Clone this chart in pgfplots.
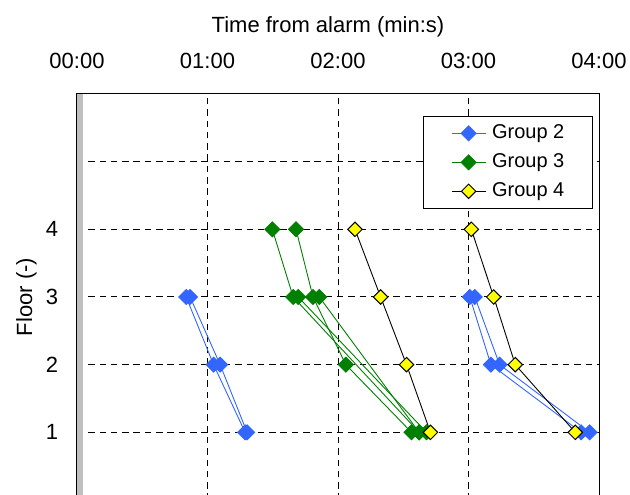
\documentclass[border=0pt]{standalone}
\usepackage{pgfplots}
\pgfplotsset{compat=1.18}
\usepackage{fontspec}
\setmainfont{Liberation Sans}
\definecolor{cblue}{RGB}{51,102,255}
\definecolor{cgreen}{RGB}{0,128,0}
\definecolor{cyellow}{RGB}{255,255,0}
\pgfplotsset{
  bser/.style={cblue, line width=0.9bp, mark=square*, mark size=5.3bp, mark options={rotate=45, solid, fill=cblue, draw=cblue}},
  gser/.style={cgreen, line width=0.9bp, mark=square*, mark size=5.3bp, mark options={rotate=45, solid, fill=cgreen, draw=cgreen}},
  yser/.style={black, line width=0.9bp, mark=square*, mark size=5.1bp, mark options={rotate=45, solid, fill=cyellow, draw=black, line width=1bp}},
}
\begin{document}
\begin{tikzpicture}
\begin{axis}[
  name=ax,
  scale only axis, width=522bp, height=406bp,
  xmin=0, xmax=240, ymin=0, ymax=6,
  xtick={0,60,120,180,240}, xticklabels={00:00,01:00,02:00,03:00,04:00},
  ytick={1,2,3,4,5}, yticklabels={1,2,3,4,{}},
  xticklabel pos=upper,
  major tick length=0pt,
  grid=major,
  grid style={black, line width=1bp, dash pattern=on 6.5bp off 4.8bp},
  axis line style={black, line width=1bp},
  ticklabel style={font=\fontsize{22bp}{26bp}\selectfont, inner sep=0pt},
  xticklabel style={anchor=base, yshift=25.7bp},
  yticklabel style={anchor=east, xshift=-18.7bp},
  xlabel={Time from alarm (min:s)},
  ylabel={Floor (-)},
  every axis x label/.style={at={(axis description cs:0.4808,1.1527)}, anchor=base, inner sep=0pt, font=\fontsize{22bp}{26bp}\selectfont},
  every axis y label/.style={at={(axis description cs:-0.0862,0.5)}, rotate=90, anchor=base, inner sep=0pt, font=\fontsize{22bp}{26bp}\selectfont},
  legend style={at={(0.988,0.946)}, anchor=north east, draw=black, line width=0.8bp,
    font=\fontsize{20bp}{24bp}\selectfont, inner xsep=28bp, inner ysep=8bp, row sep=11bp,
    cells={anchor=west}, nodes={inner sep=0pt, text height=14bp, text depth=4bp},
    /tikz/every odd column/.append style={column sep=6bp}},
  legend image code/.code={\draw[mark repeat=2,mark phase=2,#1] plot coordinates {(0bp,0bp) (17bp,0bp) (34bp,0bp)};},
]
\fill[gray!50] ([xshift=0.5bp]rel axis cs:0,0) rectangle ([xshift=6.5bp]rel axis cs:0,1);
% Group 2
\addplot[bser] coordinates {(50.2,3) (62.8,2) (77.3,1)};
\addlegendentry{Group 2}
\addplot[bser, forget plot] coordinates {(52.0,3) (65.8,2) (78.2,1)};
\addplot[bser, forget plot] coordinates {(180.6,3) (190.3,2) (231.8,1)};
\addplot[bser, forget plot] coordinates {(182.9,3) (194.3,2) (235.7,1)};
% Group 3
\addplot[gser] coordinates {(89.8,4) (99.4,3) (157.3,1)};
\addlegendentry{Group 3}
\addplot[gser, forget plot] coordinates {(100.7,4) (108.5,3) (123.6,2) (153.8,1)};
\addplot[gser, forget plot] coordinates {(101.7,3) (160.7,1)};
\addplot[gser, forget plot] coordinates {(111.4,3) (157.3,1)};
% Group 4
\addplot[yser] coordinates {(127.8,4) (139.6,3) (151.5,2) (162.5,1)};
\addlegendentry{Group 4}
\addplot[yser, forget plot] coordinates {(181.3,4) (191.6,3) (201.5,2) (229.1,1)};
\end{axis}
\pgfresetboundingbox
\path[use as bounding box] ([xshift=-77bp,yshift=94bp]ax.north west) rectangle ([xshift=553bp,yshift=-401bp]ax.north west);
\end{tikzpicture}
\end{document}
